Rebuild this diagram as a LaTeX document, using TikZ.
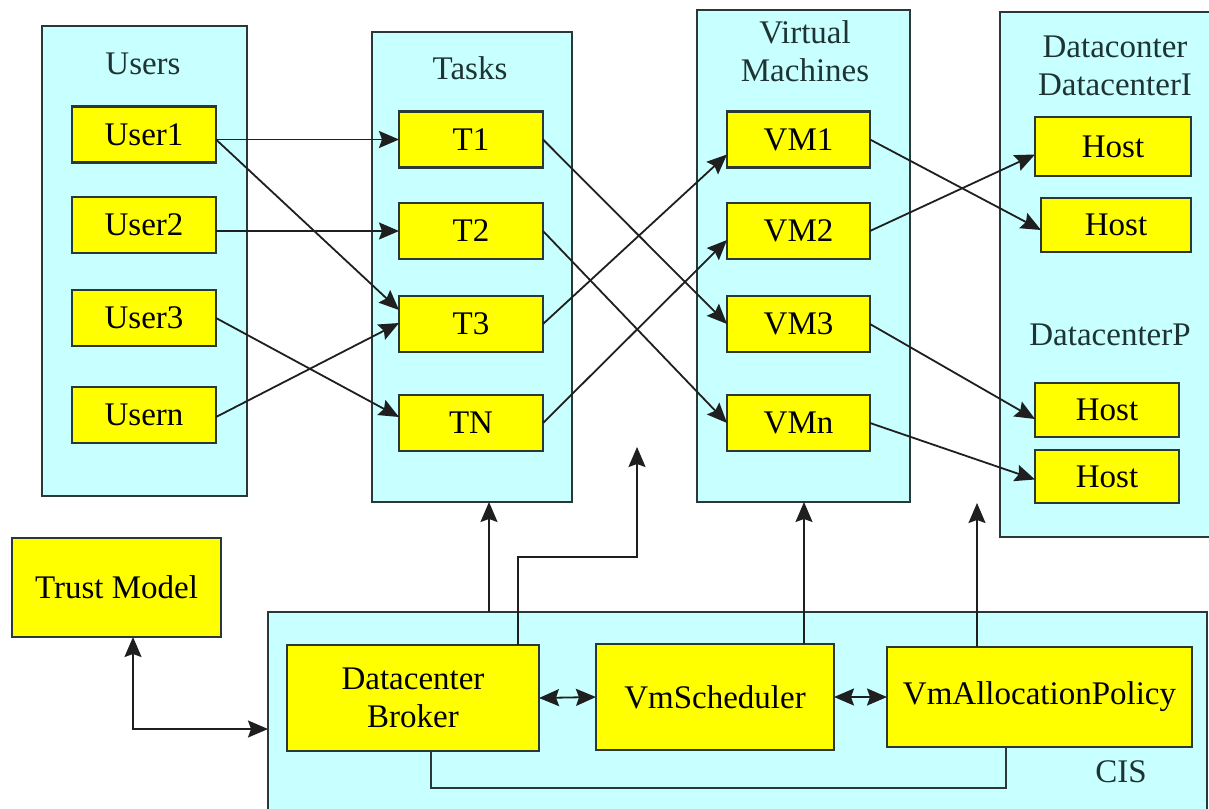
\documentclass[tikz,border=0pt]{standalone}
\usepackage{fontspec}
\setmainfont{Liberation Serif}
\newfontfamily\labelfont{Liberation Serif}
\usetikzlibrary{arrows.meta}
\definecolor{panelfill}{HTML}{C8FFFF}
\definecolor{boxfill}{HTML}{FFFF00}
\definecolor{edgec}{HTML}{2A3838}
\definecolor{titlec}{HTML}{1E3434}
\begin{document}
\begin{tikzpicture}[x=1pt,y=-1pt,
  every node/.style={font=\labelfont\fontsize{33pt}{38pt}\selectfont},
  panel/.style={draw=edgec, line width=2.4pt, fill=panelfill, inner sep=0pt, outer sep=0pt, anchor=north west},
  item/.style={draw=edgec, line width=2.1pt, fill=boxfill, inner sep=0pt, outer sep=0pt,
    minimum height=56pt, minimum width=144pt, align=center},
  title/.style={text=titlec, inner sep=0pt, align=center},
  tip/.tip={Stealth[length=20pt,width=17pt,inset=3pt]},
  link/.style={draw=black!88, line width=1.8pt, -tip},
  both/.style={draw=black!88, line width=1.8pt, tip-tip},
  plain/.style={draw=edgec, line width=1.8pt}]

\useasboundingbox (0,0) rectangle (1209,808);
\fill[white] (0,0) rectangle (1209,808);
\clip (0,0) rectangle (1209,808);

% column panels
\node[panel, minimum width=205pt, minimum height=470pt] (users) at (42,26) {};
\node[panel, minimum width=200pt, minimum height=470pt] (tasks) at (372,32) {};
\node[panel, minimum width=213pt, minimum height=492pt] (vms) at (697,10) {};
\node[panel, minimum width=240pt, minimum height=525pt] (dc) at (1000,12) {};
\node[panel, minimum width=939pt, minimum height=220pt] (cis) at (268,612) {};

% panel titles
\node[title] (usersT) at (143,64) {Users};
\node[title] (tasksT) at (470,68) {Tasks};
\node[title] (vmsT) at (805,51) {Virtual\\[0pt]Machines};
\node[title] (dcT) at (1115,66) {Dataconter\\[0pt]DatacenterI};
\node[title] (dcP) at (1110,335) {DatacenterP};
\node[title] (cisT) at (1121,772) {CIS};

% users
\node[item] (u1) at (144,134.5) {User1};
\node[item] (u2) at (144,225) {User2};
\node[item] (u3) at (144,318) {User3};
\node[item] (un) at (144,415) {Usern};

% tasks
\node[item] (t1) at (471,139.5) {T1};
\node[item] (t2) at (471,231) {T2};
\node[item] (t3) at (471,324) {T3};
\node[item] (tn) at (471,423) {TN};

% virtual machines
\node[item, minimum width=143pt] (vm1) at (798.5,139.5) {VM1};
\node[item, minimum width=143pt] (vm2) at (798.5,231) {VM2};
\node[item, minimum width=143pt] (vm3) at (798.5,324) {VM3};
\node[item, minimum width=143pt] (vmn) at (798.5,423) {VMn};

% hosts
\node[item, minimum width=156pt, minimum height=59pt] (h1) at (1113,146.5) {Host};
\node[item, minimum width=150pt, minimum height=54pt] (h2) at (1116,225) {Host};
\node[item, minimum width=144pt, minimum height=54pt] (h3) at (1107,410) {Host};
\node[item, minimum width=144pt, minimum height=53pt] (h4) at (1107,476.5) {Host};

% trust model and CIS components
\node[item, minimum width=209pt, minimum height=99pt] (tm) at (116.5,587.5) {Trust Model};
\node[item, minimum width=252pt, minimum height=106pt] (broker) at (413,698) {Datacenter\\[0pt]Broker};
\node[item, minimum width=238pt, minimum height=106pt] (sched) at (715,697) {VmScheduler};
\node[item, minimum width=305pt, minimum height=100pt] (policy) at (1039.5,697) {VmAllocationPolicy};

% users -> tasks
\draw[link] (t1.west -| u1.east) -- (t1.west);
\draw[link] (t1.west -| u1.east) -- ([yshift=14pt]t3.west);
\draw[link] (t2.west -| u2.east) -- (t2.west);
\draw[link] (u3.east) -- ([yshift=6pt]tn.west);
\draw[link] ([yshift=-2pt]un.east) -- ([yshift=1pt]t3.west);

% tasks -> virtual machines
\draw[link] (t1.east) -- (vm3.west);
\draw[link] (t2.east) -- (vmn.west);
\draw[link] (t3.east) -- ([yshift=-15pt]vm1.west);
\draw[link] (tn.east) -- ([yshift=-9pt]vm2.west);

% virtual machines -> hosts
\draw[link] (vm1.east) -- ([yshift=-5pt]h2.west);
\draw[link] (vm2.east) -- ([yshift=-8pt]h1.west);
\draw[link] (vm3.east) -- ([yshift=-9pt]h3.west);
\draw[link] (vmn.east) -- ([yshift=-3pt]h4.west);

% trust model <-> CIS
\coordinate (tmx) at (133,0);
\coordinate (tmy) at (0,729);
\draw[both] (tm.south -| tmx) |- (cis.west |- tmy);

% broker links
\coordinate (bx1) at (489,0);
\draw[link] (bx1 |- cis.north) -- (bx1 |- tasks.south);
\coordinate (bx2) at (518,0);
\coordinate (knee) at (0,557);
\coordinate (btip) at (637,447);
\draw[link] (bx2 |- broker.north) |- (btip |- knee) -- (btip);

% scheduler and policy links
\coordinate (sx) at (804,0);
\draw[link] (sx |- sched.north) -- (sx |- vms.south);
\coordinate (px) at (977,0);
\coordinate (ptip) at (977,503);
\draw[link] (px |- policy.north) -- (ptip);

\draw[both] (broker.east) -- (sched.west);
\draw[both] (sched.east) -- (policy.west);

% return loop under the components
\coordinate (lx1) at (431,0);
\coordinate (lx2) at (1006,0);
\coordinate (ly) at (0,788);
\draw[plain] (lx1 |- broker.south) |- (lx2 |- ly) -- (lx2 |- policy.south);
\end{tikzpicture}
\end{document}
